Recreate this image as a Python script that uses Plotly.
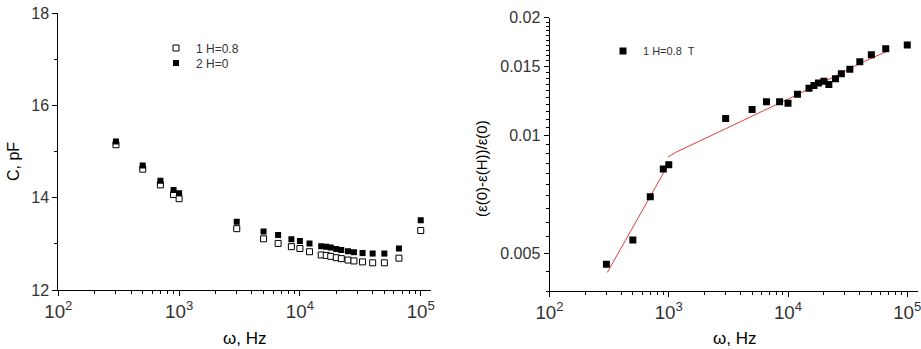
import plotly.graph_objects as go

# ---- data ----
freq_hz = [300, 500, 700, 900, 1000, 3000, 5000, 6600, 8500, 10000, 12000,
           15000, 16500, 18000, 20000, 22000, 25000, 28000, 33000, 40000,
           50000, 66000, 100000]
c_h08 = [15.15, 14.62, 14.28, 14.07, 13.98, 13.33, 13.11, 13.01, 12.94, 12.90,
         12.83, 12.76, 12.75, 12.73, 12.70, 12.68, 12.65, 12.63, 12.61, 12.59,
         12.59, 12.69, 13.29]
c_h0 = [15.22, 14.70, 14.37, 14.17, 14.10, 13.48, 13.27, 13.19, 13.10, 13.06,
        13.01, 12.95, 12.94, 12.92, 12.89, 12.87, 12.84, 12.82, 12.80, 12.79,
        12.79, 12.90, 13.51]
rel_change = [0.00468, 0.00540, 0.00697, 0.00820, 0.00841, 0.01104, 0.01164,
              0.01220, 0.01220, 0.01208, 0.01274, 0.01320, 0.01341, 0.01362,
              0.01376, 0.01349, 0.01395, 0.01437, 0.01477, 0.01543, 0.01607,
              0.01665, 0.01702]
fit_freq = [305, 970, None, 984, 1150, 3000, 10000, 20000, 40000, 69000]
fit_val = [0.00446, 0.00833, None, 0.00880, 0.00906, 0.01040, 0.01237,
           0.01370, 0.01528, 0.01645]

right_yticks = [0.005, 0.01, 0.015, 0.02]
right_yticklabels = ["0.005", "0.01", "0.015", "0.02"]

FONT = "Liberation Sans, Arial, sans-serif"
TICKC = "#333333"
W, H = 921, 349

fig = go.Figure()

fig.add_trace(go.Scatter(
    x=freq_hz, y=c_h08, mode="markers", name="1 H=0.8",
    marker=dict(symbol="square", size=6, color="white",
                line=dict(color="black", width=1)),
    xaxis="x", yaxis="y", legend="legend"))
fig.add_trace(go.Scatter(
    x=freq_hz, y=c_h0, mode="markers", name="2 H=0",
    marker=dict(symbol="square", size=6, color="black",
                line=dict(color="black", width=0)),
    xaxis="x", yaxis="y", legend="legend3"))

fig.add_trace(go.Scatter(
    x=fit_freq, y=fit_val, mode="lines", showlegend=False,
    line=dict(color="#e0403c", width=1), connectgaps=False,
    xaxis="x2", yaxis="y2"))
fig.add_trace(go.Scatter(
    x=freq_hz, y=rel_change, mode="markers", name="1 H=0.8  T",
    marker=dict(symbol="square", size=7, color="black"),
    xaxis="x2", yaxis="y2", legend="legend2"))

minor_y2 = [round(0.004 + 0.0005 * i, 4) for i in range(0, 33)]
minor_y2 = [v for v in minor_y2 if v not in right_yticks]


def px_x(p):
    return p / W


def px_y(p):
    return (H - p) / H


common_axis = dict(showline=True, linecolor="black", linewidth=1,
                   ticks="outside", ticklen=5, tickcolor="black",
                   showgrid=False, zeroline=False, automargin=False,
                   tickfont=dict(family=FONT, size=16, color=TICKC))

xa = dict(common_axis, type="log", dtick=1, exponentformat="power",
          showexponent="all", ticklabeloverflow="allow",
          tickfont=dict(family=FONT, size=15, color=TICKC),
          minor=dict(dtick="D1", ticks="outside", ticklen=3,
                     tickcolor="black"))

legend_common = dict(xanchor="left", yanchor="middle",
                     bgcolor="rgba(0,0,0,0)", borderwidth=0)

ann_common = dict(xref="paper", yref="paper", showarrow=False,
                  xanchor="center", yanchor="middle")

fig.update_layout(
    width=W, height=H,
    margin=dict(l=0, r=0, t=0, b=0, autoexpand=False),
    paper_bgcolor="white", plot_bgcolor="white",
    font=dict(family=FONT, color="black"),
    xaxis=dict(xa, domain=[px_x(58.3), px_x(431)], range=[2, 5.085],
               anchor="y"),
    yaxis=dict(common_axis, domain=[px_y(290), px_y(13.3)], range=[12, 18],
               tick0=12, dtick=2, anchor="x",
               minor=dict(dtick=1, ticks="outside", ticklen=3,
                          tickcolor="black")),
    xaxis2=dict(xa, domain=[px_x(549.5), px_x(918)], range=[2, 5.09],
                anchor="y2"),
    yaxis2=dict(common_axis, type="log", domain=[px_y(291), px_y(17.7)],
                range=[-2.39794, -1.69897], tickmode="array",
                tickvals=right_yticks, ticktext=right_yticklabels,
                anchor="x2",
                minor=dict(tickmode="array", tickvals=minor_y2,
                           ticks="outside", ticklen=3, tickcolor="black")),
    legend=dict(legend_common, x=px_x(156), y=px_y(48),
                font=dict(family=FONT, size=12, color=TICKC)),
    legend3=dict(legend_common, x=px_x(156), y=px_y(63),
                 font=dict(family=FONT, size=12, color=TICKC)),
    legend2=dict(legend_common, x=px_x(603), y=px_y(51),
                 font=dict(family=FONT, size=11, color=TICKC)),
    annotations=[
        dict(ann_common, text="C, pF", x=px_x(13), y=px_y(162),
             textangle=-90, font=dict(family=FONT, size=16, color="black")),
        dict(ann_common, text="ω, Hz", x=px_x(245), y=px_y(338),
             font=dict(family=FONT, size=17, color="black")),
        dict(ann_common, text="(ε(0)-ε(H))/ε(0)", x=px_x(481.5),
             y=px_y(168.5), textangle=-90,
             font=dict(family=FONT, size=15, color="black")),
        dict(ann_common, text="ω, Hz", x=px_x(734.5), y=px_y(338),
             font=dict(family=FONT, size=17, color="black")),
    ],
)

fig.write_html(
    "out.html",
    config={"displayModeBar": False},
    post_script="document.body.style.margin='0';"
                "document.body.style.overflow='hidden';")
